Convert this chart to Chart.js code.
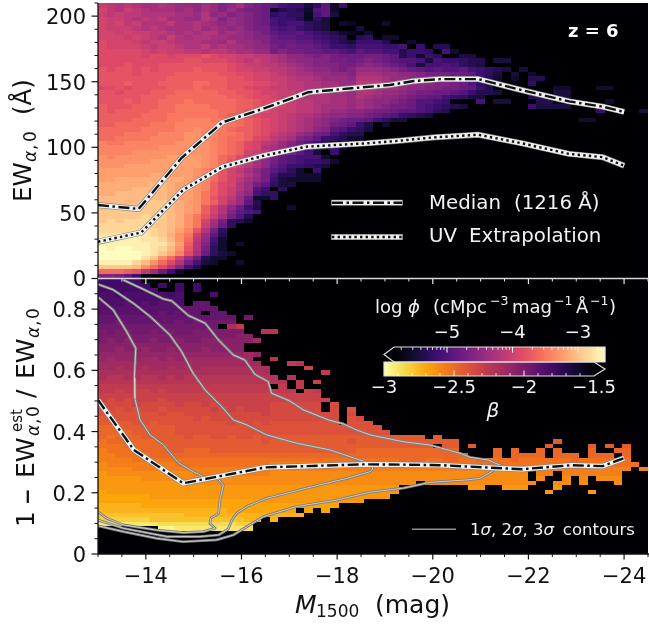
<!DOCTYPE html>
<html><head><meta charset="utf-8">
<style>html,body{margin:0;padding:0;background:#fff}canvas{display:block}</style>
<script src="https://cdn.jsdelivr.net/npm/chart.js@4/dist/chart.umd.min.js"></script>
</head><body><canvas id="c" width="649" height="625"></canvas>
<script>
const xMajor=[-14,-16,-18,-20,-22,-24];
const xMinor=[-13,-13.5,-14.5,-15,-15.5,-16.5,-17,-17.5,-18.5,-19,-19.5,-20.5,-21,-21.5,-22.5,-23,-23.5,-24.5];
const ewMajor=[0,50,100,150,200];
const ewMinor=[10,20,30,40,60,70,80,90,110,120,130,140,160,170,180,190,210];
const fracMajor=[0,0.2,0.4,0.6,0.8];
const fracMinor=[0.05,0.1,0.15,0.25,0.3,0.35,0.45,0.5,0.55,0.65,0.7,0.75,0.85,0.9];
const phiTicks=[-5,-4,-3];
const betaTicks=[-3,-2.5,-2,-1.5];
const betaMinor=[-2.9,-2.8,-2.7,-2.6,-2.4,-2.3,-2.2,-2.1,-1.9,-1.8,-1.7,-1.6];
const medM=[-13,-13.85,-14.75,-15.6,-16.5,-17.4,-18.3,-19.1,-19.6,-20.15,-20.95,-21.87,-22.85,-23.55,-24];
const medEW=[56,53,92,119,130,142,145,147.5,150.5,152,152,143.5,135,131,127];
const uvM=[-13,-13.9,-14.78,-15.6,-16.45,-17.36,-18.6,-19.3,-20.0,-20.95,-21.87,-22.85,-23.55,-24];
const uvEW=[28,35,67.5,85,93.5,100.5,103,105,107.5,109.6,103,95,92.5,86];
const medFracM=[-13,-13.75,-14.78,-16.5,-18.6,-19.3,-20.2,-21.45,-21.87,-22.9,-23.55,-24];
const medFrac=[0.503,0.34,0.231,0.283,0.293,0.292,0.29,0.28,0.277,0.29,0.287,0.313];
const c1M=[-13.01,-13.32,-13.6,-13.79,-13.76,-13.77,-13.88,-14.09,-14.37,-14.68,-14.99,-15.2,-15.52,-15.62,-15.55,-15.52,-15.36,-15.34,-15.45,-15.2,-14.78,-14.23,-13.53,-13.18,-13];
const c1B=[.838,.797,.726,.672,.574,.509,.438,.389,.356,.298,.269,.253,.244,.225,.176,.133,.117,.1,.084,.073,.07,.078,.095,.117,.138];
const c2M=[-13,-13.32,-13.74,-14.09,-14.5,-14.75,-14.99,-15.24,-15.59,-15.83,-16.11,-16.53,-17.15,-17.85,-18.65,-18.74,-18.74,-18.69,-18.2,-17.36,-16.53,-16.11,-15.9,-15.8,-15.72,-15.52,-15.13,-14.44,-13.53,-13];
const c2B=[.881,.863,.819,.776,.716,.661,.59,.536,.481,.438,.422,.389,.362,.34,.298,.285,.277,.269,.247,.215,.182,.155,.133,.111,.081,.062,.057,.057,.084,.111];
const c3M=[-13.53,-13.88,-14.37,-14.54,-14.89,-15.24,-15.52,-15.83,-16.07,-16.28,-16.56,-16.63,-17.01,-17.29,-17.82,-18.13,-18.41,-18.69,-19.38,-19.94,-20.57,-20.78,-21.16,-21.44,-20.99,-20.71,-19.94,-19.38,-18.69,-17.99,-17.15,-16.46,-16.11,-15.83,-15.48,-14.78,-14.23,-13.53,-13];
const c3B=[.895,.87,.833,.827,.779,.754,.699,.65,.634,.587,.563,.525,.5,.471,.438,.425,.405,.389,.367,.356,.329,.316,.307,.288,.247,.242,.234,.215,.202,.176,.155,.122,.089,.062,.046,.04,.051,.073,.092];
// cell levels, top row first; each char is one bin, "." is an empty bin
const phiRows=[
"jihihgghgf fegfdegdcb a87746a37",
"kihjihgggf gegfdfdccb 256539a3",
"jijiihhhhg gfhefdedcb 676628a4",
"kjjihihigg ffhgdfedcb 877526 4",
"kjkijhhhig ghgfefedcb 8788654.32 ...3",
"kjjjihihgg ghfgfefdcc 9897654... 4",
"kkjkjjiihg hghhfgfedc a99a876532 .3",
"kkkjkjihjh ghhggffedd baa998765. 56.33",
"lkkkjijjih hhggfhffed bbbaa98654 7775..3",
"lkkkkjijji hhighggfee cbcbba9776 88877 8.7.5 5",
"lllllkjkjj iihiihggff cdccbbaa98 a99885776. 83",
"lllllkllkl llmlkkjjii hgeedcdcbb bccba57376 ..44",
"llllllllll mmlllkjiji hgfeeddccb cdcba99848 77655.44",
"lllmlllmmm mmmmmlkjji ihgfedddcc dedcba8488 98654",
"mlmmlmlmmm mnmmmlkkjj iihgfeedcd fffedcba9a 99a8765 4.4",
"mmmmlmmmmn nnnnmmllkk jihggffeed gggffeedcc cbba764.4. 3",
"mmmmmmmmnn nnnnnmmlkk jjihhgfffe hhhgffeddd ccb9753.3. 55",
"mmmnmmmnnn noonnmmmll kjiihhggff iiihgffeed dcb9644... 6",
"llmlmmmmnn nonnnmmlkk jjiihhgggg iihggfeedd ccba75.... ...33...33",
"mmlmmmnnno oooonnmmlk kjjiihhggf hhgffedccb ba97554... ...44",
"mmmmmnnnoo ooooonnmll kjjihhhggf hgfeedcbaa 87644..... 55544",
"mmmnmnnooo pooooonnml lkjiihhggf gfeedcb998 7...8.44.. .55......3",
"nmmmnnnoop pppooonnml kkjiihgggf gfedccb987 654....... 74444...7.",
"nmnnnnooop ppppoonmml kjjiihgffe edccbaa986 5......... ........7. ...4",
"nnnnnooopp pppponnmlk kjihhgfeed dcba97654.",
"nnnnoooopp qqqppoonml kjihgfedcb ba8644.... .......... ......33",
"nnoooopppq qqqqpponml kjihgfecba 75.3",
"oooooppppq qrqqponnml kjihgeda97 64",
"oooppppqqq rrqqpponml jihfecb865 5",
"ooppppqqqq rrqqpoonlk ihgdca7653 3",
"qppqqqqqqr rrrqponlki hfdb975432",
"qqqqqqqrrr rrrqponlkh gfdca7473",
"qqqqrrrrrr rrrqponkji fdca84.7",
"rqrrrrrrss ssrqonljhf ca98883",
"rrrrrrssss ssrqomkige ca987763",
"rrrsssssss ssrqomkige b977654",
"ssssssssss srqomkigec a863.7",
"ssssssttss srqomkjhfc 855333",
"sstttttttt srqomkigec 743333",
"ttttttuuts srqnlkhfca 644",
"ttttuuuuts srqnljhf97 .6",
"ttuuuuuuts srpnljge86 6",
"uuuuuuuuts srpmkifb33 6",
"uuuuuvvvut srpnkhfa5",
"uuvvvvvvut srnkheb74. ..3",
"vvvvvvvvut srnkhda98",
"vvvvvwvvut rpmjgc95",
"vwvwwwwvut rpkgc653",
"wwwwwwvvut rpjfb6",
"wwwwwxwvus qmhc6",
"xxxxxxwvtr pjfa5",
"xyyyyxxwur oie83",
"yyyyyyxxvs nhd73.3",
"zyzzyyxwur mhc63",
"zzzzzyxvtq lgb643",
"zzzzzxvrok fb533",
"yyyywurolh c843..3",
"vvvvurolhd 85",
"ooonmifb73",
"ddca7"
];
const betaRows=[
"sssss",
"ssssss.s.s .s",
"ssssssr..s .s",
"rrsrrrsrsr ...r",
"rrrrrrrrrr",
"qrrqrqrqqr .pp",
"qqqqqqqqqq pppp",
"qqqqqqqpqp pp.pp",
"pppppppppp pppppp.o",
"ppoppppppo pooooo",
"oooooooooo oooo.jh",
"nonnoonono onnnnnn..i i",
"nnnnnnnnnn nnnnnnmm",
"nmnmnnmnnm nnmmmmmmk",
"mmmmmmmmmm mmmmmmm",
"mmlmmlmmlm mmlmmmm",
"llllllllll lllllllkl",
"lklllkklkl kkkkkkkk.. i",
"kkkkkkkkkk kkkkkkkkk. ..hi",
"kkjkkjkkjk jkjjjjjjjj ....g",
"jjjjjjjjjj jjjjjjjjjj ......h",
"jiijjiijij iiiiiiiiii i.i",
"iiiiiiiiii iiiiiiiiii ii.h.g",
"hhhhhhhhhh hhhhhhhhhh .h.h",
"hhghgghghh hhhhhhhhhh hhh.gh",
"gggggggggg gggggggggg gggggg",
"gfgfgggfgg gggggggggg ggggggg",
"ffffgffffg ffgfgggggg ffffff.f",
"efefeffeff fffgfgfggg ffffff.f.e",
"eeeeeeefee fffffffffg ffffffff.f",
"deeeeeeeee efefffffff ffffffff.e f",
"ddddeedeee eeeeefefef eeeeeeee.e ee",
"ccddddddde eeeeeeeeee eeeeeeeeee eee",
"ccccddddde eeeeeeeeee eeeeeeeeee eeee",
"cbcccddddd eddeedeede eddddddddd dddddddd.d",
"bccccccddd ddddddddde ddddddddde dddddddddd dd........ ...d",
"bbbcccccdd dddddddddd dddddddddd ddddddddd. dd.d...... ..d....d.d .d",
"abbbbcccdd cccddddddd dddddddddd cccccccccc cc....c.c. .c.c...c.. cc",
"aabbbbcccc cccccccccc cccccccccc cccccccccc ccc...c.cc cc.ccc.ccc .c",
"aaaabbbbbb bbbbbbbbbb bbbbbbbbbb bbbbbcccbb ccbbcbbbcb bbbbbcbbbb bb",
"9aaaaaaaab bbbbbbbbbb aaaaaaaaaa aaaaaaaaab bbbbbbbbbb bbbbbbbbbb bbb",
"9999aaaaaa aaaaaaaaaa aaaaaaaaaa aaaaaaaaaa aaaaaaaaaa aaaaaaaaaa aa.a",
"8999999999 9aaaaaaaaa 9999999999 9999999999 9999999999 .aa.aaaaaa a",
"8888899999 9999999999 9999999999 9999999999 9999999999 .9..9.9.99 9",
"8888888888 8999999999 9999999999 9999999.99 9999999999 9..99.9... 9",
"8888888888 8888888888 8888888888 88888..... ...88..888 ...8",
"7888888888 8888888888 8888888888 88888..... .......... ..8....8",
"7777778888 8888888888 8888888888 8888",
"7777777777 7777777778 8888888888 8",
"6666677777 7777777777 77777777",
"6666666666 6666677777 777.7.7",
"5555555555 6666666666 6666",
"4444445555 555555566. 6",
"2222222333 33333344",
".......112 22222223"
];
const phiLo=-5.81, phiHi=-2.59, betaLo=-3, betaHi=-1.5;
const magmaStops=["#000004","#140e36","#3b0f70","#641a80","#8c2981","#b73779","#de4968","#f7705c","#fe9f6d","#fecf92","#fcfdbf"];
const infernoStops=["#fcffa4","#f6d746","#fca50a","#f37819","#dd513a","#bc3754","#932667","#6a176e","#420a68","#160b39","#000004"];
const CODE="0123456789abcdefghijklmnopqrstuvwxyz";
function rgb(h){return [1,3,5].map(i=>parseInt(h.substr(i,2),16));}
function cmap(stops,t){t=Math.max(0,Math.min(1,t))*(stops.length-1);const i=Math.min(stops.length-2,Math.floor(t)),f=t-i,a=rgb(stops[i]),b=rgb(stops[i+1]);
 return `rgb(${a.map((v,k)=>Math.round(v+(b[k]-v)*f)).join(",")})`;}
function cells(rows,yTop,dy,lo,hi){const out=[],dx=11.5/64;
 rows.forEach((s,r)=>{s=s.replace(/ /g,"");[...s].forEach((ch,c)=>{if(ch===".")return;
  out.push({x:-13-dx*(c+.5),y:yTop-dy*(r+.5),v:lo+(hi-lo)*CODE.indexOf(ch)/35});});});
 return out;}
const pts=(a,b)=>a.map((x,i)=>({x,y:b[i]}));
const line=(d,y,color,w,order,dash)=>({type:"scatter",data:d,yAxisID:y,showLine:true,pointRadius:0,borderColor:color,borderWidth:w,order,borderDash:dash||[],tension:0,borderCapStyle:"butt",borderJoinStyle:"round",fill:false});
const DD=[11,3.5,2.5,3.5], DOT=[2.4,3.2];
function fancy(d,y,dash,o){return [line(d,y,"#858585",6,o+2),line(d,y,"#f2f2f2",4.7,o+1),line(d,y,"#111",2.4,o,dash)];}
const contour=(a,b)=>[line(pts(a,b),"yb","#7e7e7e",2.7,11),line(pts(a,b),"yb","#d4d4d4",.9,10)];
const datasets=[
 {type:"scatter",data:cells(phiRows,210,3.5,phiLo,phiHi),yAxisID:"y",pointRadius:0,heat:magmaStops,lo:phiLo,hi:phiHi,dy:3.5,order:50},
 {type:"scatter",data:cells(betaRows,.9,.015,betaLo,betaHi),yAxisID:"yb",pointRadius:0,heat:infernoStops,lo:betaLo,hi:betaHi,dy:.015,order:50},
 ...contour(c1M,c1B),...contour(c2M,c2B),...contour(c3M,c3B),
 ...fancy(pts(uvM,uvEW),"y",DOT,4),
 ...fancy(pts(medM,medEW),"y",DD,1),
 ...fancy(pts(medFracM,medFrac),"yb",DD,1)
];
function runs(ctx,list,x,y,color){let cx=x;ctx.fillStyle=color;ctx.textBaseline="alphabetic";ctx.textAlign="left";
 for(const r of list){if(r.at!==undefined)cx=x+r.at;ctx.font=`${r.st||""} ${r.s}px "DejaVu Sans"`;ctx.fillText(r.t,cx,y+(r.dy||0));cx+=ctx.measureText(r.t).width+(r.gap||0);}}
const heatPlugin={id:"heat",beforeDatasetsDraw(ch){const {ctx,chartArea:a,scales:s}=ch,dx=11.5/64;
 ctx.save();ctx.fillStyle="#000004";ctx.fillRect(a.left,a.top,a.right-a.left,a.bottom-a.top);
 ch.data.datasets.forEach(d=>{if(!d.heat)return;const ys=s[d.yAxisID];ctx.save();ctx.beginPath();ctx.rect(a.left,ys.top,a.right-a.left,ys.bottom-ys.top);ctx.clip();
  d.data.forEach(p=>{const x0=Math.round(s.x.getPixelForValue(p.x+dx/2)),x1=Math.round(s.x.getPixelForValue(p.x-dx/2)),y0=Math.round(ys.getPixelForValue(p.y+d.dy/2)),y1=Math.round(ys.getPixelForValue(p.y-d.dy/2));
   ctx.fillStyle=cmap(d.heat,(p.v-d.lo)/(d.hi-d.lo));ctx.fillRect(x0,y0,x1-x0,y1-y0);});ctx.restore();});
 ctx.restore();},
 afterDraw(ch){const {ctx,chartArea:a,scales:s}=ch;ctx.save();
 const tick=(x0,y0,x1,y1,c,w)=>{ctx.strokeStyle=c;ctx.lineWidth=w||1.2;ctx.beginPath();ctx.moveTo(x0,y0);ctx.lineTo(x1,y1);ctx.stroke();};
 const mid=s.y.bottom;
 xMajor.forEach(v=>{const x=s.x.getPixelForValue(v);tick(x,a.bottom,x,a.bottom+5.5,"#111");tick(x,mid,x,mid+5.5,"#e8e8e8");});
 xMinor.forEach(v=>{const x=s.x.getPixelForValue(v);tick(x,a.bottom,x,a.bottom+3,"#111",1);tick(x,mid,x,mid+3,"#e8e8e8",1);});
 ewMajor.forEach(v=>{const y=s.y.getPixelForValue(v);tick(a.left,y,a.left-6.5,y,"#111");});
 ewMinor.forEach(v=>{const y=s.y.getPixelForValue(v);tick(a.left,y,a.left-3.5,y,"#111",1);});
 fracMajor.forEach(v=>{const y=s.yb.getPixelForValue(v);tick(a.left,y,a.left-6.5,y,"#111");});
 fracMinor.forEach(v=>{const y=s.yb.getPixelForValue(v);tick(a.left,y,a.left-3.5,y,"#111",1);});
 tick(a.left,a.top,a.left,a.bottom,"#111",1.3);tick(a.left,a.bottom,a.right+1,a.bottom,"#111",1.3);
 tick(a.left,mid,a.right+1,mid,"#d8d8d8",1.4);
 // legend top
 const lg=(y,dash)=>{tick(331,y,403,y,"#858585",6);tick(332,y,402,y,"#f2f2f2",4.7);ctx.setLineDash(dash);tick(332,y,402,y,"#111",2.4);ctx.setLineDash([]);};
 lg(202.7,DD);lg(237,DOT);
 runs(ctx,[{t:"Median",s:19.8,gap:13},{t:"(1216 Å)",s:19.8}],429,209,"#f2f2f2");
 runs(ctx,[{t:"UV",s:19.8,gap:12},{t:"Extrapolation",s:19.8}],429,242,"#f2f2f2");
 runs(ctx,[{t:"z = 6",s:18,st:"bold"}],568,36.5,"#fff");
 // contour legend
 tick(412,529.3,456,529.3,"#8f8f8f",1.6);
 const it={st:"italic",s:16.5},nr={s:16.5};
 runs(ctx,[{t:"1",...nr},{t:"σ",...it},{t:", 2",...nr},{t:"σ",...it},{t:", 3",...nr},{t:"σ",...it,gap:9},{t:"contours",...nr}],470,534.5,"#f2f2f2");
 // colourbars
 const bx0=394,bx1=605,cx=v=>447+65.5*(v+5),bx=v=>384+140*(v+3);
 const y0=347,y1=362,y2=376;
 for(let x=384;x<605;x++){ctx.fillStyle=cmap(magmaStops,(( (x-447)/65.5-5)-phiLo)/(phiHi-phiLo));
  const h=x<394?(x-384)/10*7.5:7.5;ctx.fillRect(x,(y0+y1)/2-h,1.2,2*h);}
 for(let x=384;x<605;x++){ctx.fillStyle=cmap(infernoStops,(x-384)/210);
  const h=x>594?(605-x)/11*7:7;ctx.fillRect(x,(y1+y2)/2-h,1.2,2*h);}
 ctx.strokeStyle="#e0e0e0";ctx.lineWidth=1.2;
 ctx.beginPath();ctx.moveTo(384,(y0+y1)/2);ctx.lineTo(394,y0);ctx.lineTo(605,y0);ctx.lineTo(605,y1);ctx.lineTo(394,y1);ctx.closePath();ctx.stroke();
 ctx.beginPath();ctx.moveTo(384,y1);ctx.lineTo(594,y1);ctx.lineTo(605,(y1+y2)/2);ctx.lineTo(594,y2);ctx.lineTo(384,y2);ctx.closePath();ctx.stroke();
 phiTicks.forEach(v=>tick(cx(v),y0,cx(v),y0+5.5,"#fff",1));
 for(let d=-6;d<-2;d++)[2,3,4,5,6,7,8,9].forEach(k=>{const v=d+Math.log10(k),x=cx(v);if(x>bx0&&x<bx1)tick(x,y0,x,y0+3,"#fff",.8);});
 [-2.5,-2].forEach(v=>tick(bx(v),y2,bx(v),y2-5.5,"#fff",1));
 betaMinor.forEach(v=>tick(bx(v),y2,bx(v),y2-3,"#fff",.8));
 ctx.fillStyle="#f2f2f2";ctx.textAlign="center";ctx.textBaseline="alphabetic";ctx.font='18px "DejaVu Sans"';
 phiTicks.forEach(v=>ctx.fillText("\u2212"+Math.abs(v),cx(v),338));
 betaTicks.forEach(v=>ctx.fillText("\u2212"+Math.abs(v),bx(v),392.5));
 ctx.font='italic 20px "DejaVu Sans"';ctx.fillText("β",493,416.5);
 const a1={s:18},sup={s:12.5,dy:-8.5};
 runs(ctx,[{t:"log",...a1,at:0},{t:"ϕ",s:18,st:"italic",at:33},{t:"(cMpc",...a1,at:58},{t:"\u22123",...sup,at:115},{t:"mag",...a1,at:137},{t:"\u22121",...sup,at:179},{t:"Å",...a1,at:201},{t:"\u22121",...sup,at:215},{t:")",...a1,at:234}],375,313,"#f2f2f2");
 // axis titles
 runs(ctx,[{t:"M",s:25,st:"italic",at:0},{t:"1500",s:17,dy:4,at:21},{t:"(mag)",s:25,at:80}],295,613,"#111");
 ctx.save();ctx.translate(31,202);ctx.rotate(-Math.PI/2);
 runs(ctx,[{t:"EW",s:24.5,at:0},{t:"α",s:17,st:"italic",dy:4.5,at:40},{t:",",s:17,dy:4.5,at:52},{t:"0",s:17,dy:4.5,at:60},{t:"(Å)",s:24.5,at:87}],0,0,"#111");ctx.restore();
 ctx.save();ctx.translate(33.5,526);ctx.rotate(-Math.PI/2);
 runs(ctx,[{t:"1",s:25,at:-1},{t:"\u2212",s:20,st:"bold",at:21},{t:"EW",s:25,at:48},{t:"est",s:15,dy:-11.5,at:94},{t:"α",s:17,st:"italic",dy:5.5,at:90},{t:",",s:17,dy:5.5,at:102},{t:"0",s:17,dy:5.5,at:109},{t:"/",s:25,at:128},{t:"EW",s:25,at:147},{t:"α",s:17,st:"italic",dy:5.5,at:188},{t:",",s:17,dy:5.5,at:200},{t:"0",s:17,dy:5.5,at:207}],0,0,"#111");ctx.restore();
 ctx.restore();}};
// second, empty line moves each y label down to sit on its tick as in the reference
const tickFont={family:'"DejaVu Sans"',size:21};
const yFont={family:'"DejaVu Sans"',size:21,lineHeight:"5px"};
const minus=v=>{const t=String(Math.abs(v));return v<0?"\u2212"+t:t;};
const noPad=s=>{s.paddingLeft=s.paddingRight=s.paddingTop=s.paddingBottom=0;};
new Chart(document.getElementById("c"),{
 data:{datasets},
 plugins:[heatPlugin],
 options:{responsive:false,animation:false,events:[],
  layout:{padding:{top:3,right:1,left:0,bottom:0}},
  plugins:{legend:{display:false},tooltip:{enabled:false}},
  scales:{
   x:{type:"linear",reverse:true,min:-24.5,max:-13,grid:{display:false,drawTicks:false},border:{display:false},
      afterBuildTicks:s=>{s.ticks=xMajor.map(value=>({value}));},
      afterFit:s=>{s.height=71;noPad(s);},
      ticks:{font:tickFont,color:"#111",padding:11,maxRotation:0,autoSkip:false,callback:minus}},
   yb:{type:"linear",position:"left",stack:"p",stackWeight:1,min:0,max:.9,grid:{display:false,drawTicks:false},border:{display:false},
      afterBuildTicks:s=>{s.ticks=fracMajor.map(value=>({value}));},afterFit:s=>{s.width=98;noPad(s);},
      ticks:{font:yFont,color:"#111",padding:12,autoSkip:false,callback:v=>["",String(v)]}},
   y:{type:"linear",position:"left",stack:"p",stackWeight:1,min:0,max:210,grid:{display:false,drawTicks:false},border:{display:false},
      afterBuildTicks:s=>{s.ticks=ewMajor.map(value=>({value}));},afterFit:s=>{s.width=98;noPad(s);},
      ticks:{font:yFont,color:"#111",padding:12,autoSkip:false,callback:v=>["",String(v)]}}
  }}
});
</script></body></html>
